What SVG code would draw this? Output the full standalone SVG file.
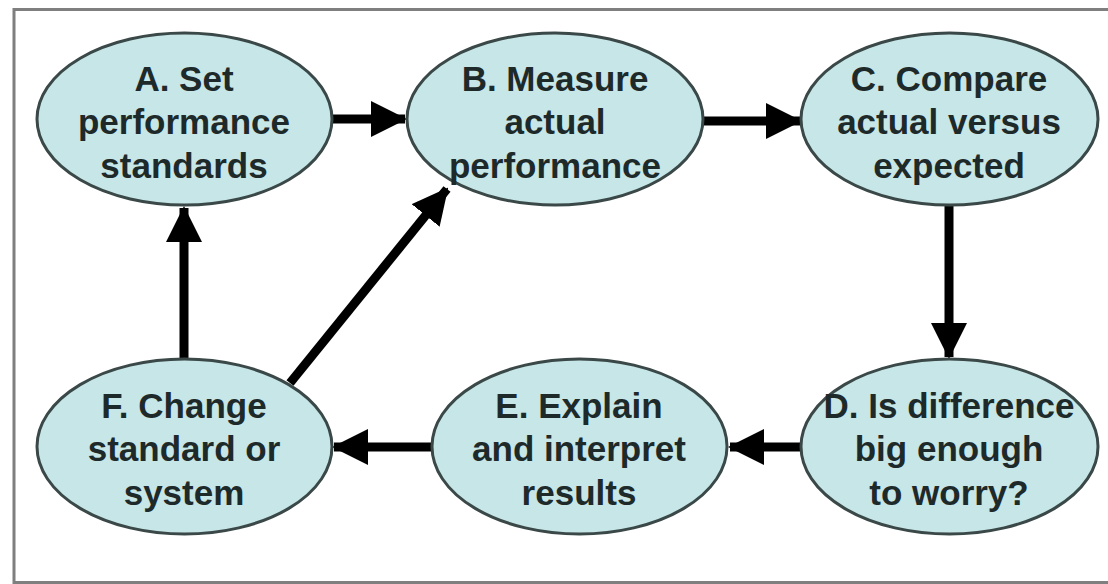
<svg xmlns="http://www.w3.org/2000/svg" width="1108" height="584" viewBox="0 0 1108 584">
<style>
.node ellipse{fill:#c6e6e8;stroke:#3b4848;stroke-width:3}
.node text{font-family:"Liberation Sans",Arial,sans-serif;font-weight:bold;font-size:35px;fill:#1e2a2a;text-anchor:middle}
.conn line{stroke:#000;stroke-width:9;marker-end:url(#ah)}
.frame{fill:none;stroke:#7f7f7f;stroke-width:3}
</style>
<defs>
<marker id="ah" markerUnits="userSpaceOnUse" viewBox="0 0 36 36" refX="34" refY="18" markerWidth="36" markerHeight="36" orient="auto">
<path d="M0,0 L36,18 L0,36 Z" fill="#000"/>
</marker>
</defs>
<rect width="1108" height="584" fill="#fff"/>
<polyline class="frame" points="1108,9.5 14,9.5 14,582.5 1108,582.5"/>
<g id="connectors" class="conn">
<line x1="332" y1="119" x2="405" y2="119"/>
<line x1="703" y1="121" x2="800" y2="121"/>
<line x1="949" y1="205" x2="949" y2="357"/>
<line x1="801" y1="447" x2="730" y2="447"/>
<line x1="432" y1="447" x2="334" y2="447"/>
<line x1="184" y1="359" x2="184" y2="208"/>
<line x1="290" y1="383" x2="447" y2="189"/>
</g>
<g id="nodeA" class="node">
<ellipse cx="184.5" cy="119" rx="147.5" ry="86"/>
<text x="184" y="91">A. Set</text>
<text x="184" y="134">performance</text>
<text x="184" y="178">standards</text>
</g>
<g id="nodeB" class="node">
<ellipse cx="555" cy="119" rx="148" ry="86"/>
<text x="555" y="91">B. Measure</text>
<text x="555" y="134">actual</text>
<text x="555" y="178">performance</text>
</g>
<g id="nodeC" class="node">
<ellipse cx="949.5" cy="119" rx="148.5" ry="86"/>
<text x="949" y="91">C. Compare</text>
<text x="949" y="134">actual versus</text>
<text x="949" y="178">expected</text>
</g>
<g id="nodeD" class="node">
<ellipse cx="949.5" cy="446.5" rx="148.5" ry="87.5"/>
<text x="949" y="418">D. Is difference</text>
<text x="949" y="461">big enough</text>
<text x="949" y="505">to worry?</text>
</g>
<g id="nodeE" class="node">
<ellipse cx="579.5" cy="446.5" rx="147.5" ry="87.5"/>
<text x="579" y="418">E. Explain</text>
<text x="579" y="461">and interpret</text>
<text x="579" y="505">results</text>
</g>
<g id="nodeF" class="node">
<ellipse cx="184.5" cy="446.5" rx="147.5" ry="87.5"/>
<text x="184" y="418">F. Change</text>
<text x="184" y="461">standard or</text>
<text x="184" y="505">system</text>
</g>
</svg>
